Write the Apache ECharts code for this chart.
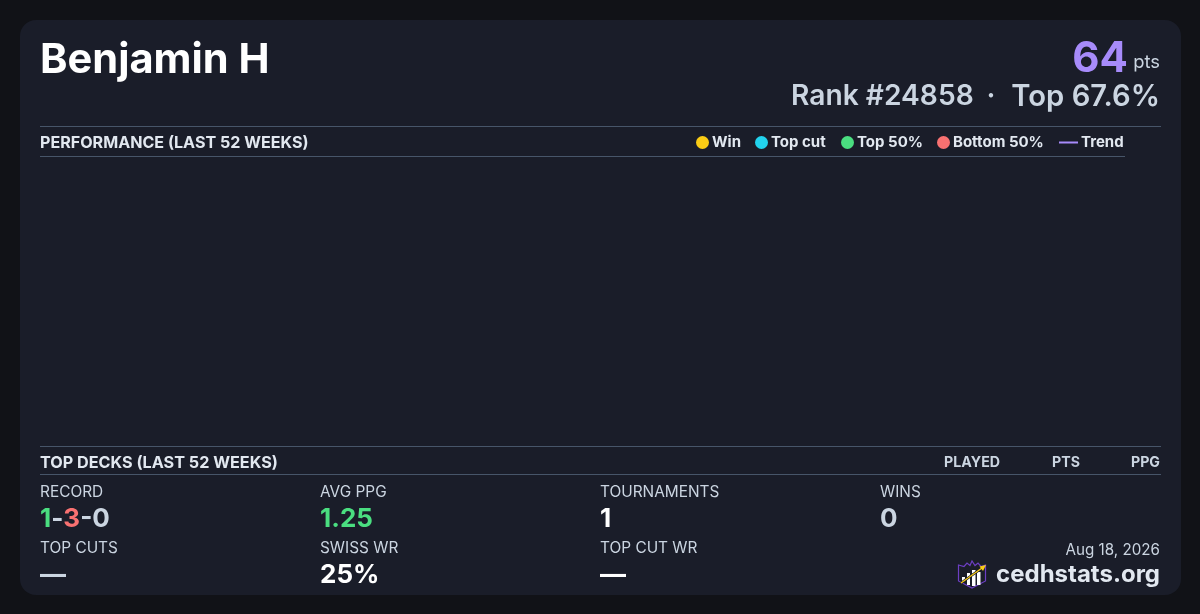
<!DOCTYPE html>
<html><head><meta charset="utf-8">
<style>html,body{margin:0;padding:0;background:#111217}#c{width:1200px;height:614px}</style>
<script src="https://cdn.jsdelivr.net/npm/echarts@6/dist/echarts.min.js"></script></head>
<body><div id="c"></div>
<script>
const playerName = 'Benjamin H';
const points = '64';
const rankText = 'Rank #24858';
const topText = 'Top 67.6%';
const legendNames = ['Win', 'Top cut', 'Top 50%', 'Bottom 50%', 'Trend'];
const legendColors = ['#facc15', '#22d3ee', '#4ade80', '#f87171', '#a78bfa'];
const legendLeft = [696, 755, 841, 937, 1059];
const winWeeks = [], topCutWeeks = [], top50Weeks = [], bottom50Weeks = [], trendWeeks = [];
const deckColumns = ['PLAYED', 'PTS', 'PPG'];
const deckColumnRight = [1000, 1080, 1160];
const FF = 'Inter';
const chart = echarts.init(document.getElementById('c'), null, {renderer:'canvas'});
const txt = (x, y, text, size, weight, fill, align) => ({type:'text', x, y, silent:true,
  style:{text, font:`${weight} ${size}px ${FF}`, fill, align:align||'left', verticalAlign:'middle'}});
const line = (x1, x2, y) => ({type:'rect', silent:true, shape:{x:x1, y:y, width:x2-x1, height:1}, style:{fill:'#475569'}});
const LW = '#cbd5e1', LS = 15.4, VS = 26;
const graphic = [
  {type:'rect', silent:true, z:-10, shape:{x:20,y:20,width:1161,height:575,r:16}, style:{fill:'#1a1d29'}},
  txt(40, 60, playerName, 41.6, 700, '#ffffff'),
  txt(1128, 59, points, 42, 700, '#a78bfa', 'right'),
  txt(1160, 62, 'pts', 18.4, 400, '#cbd5e1', 'right'),
  txt(791, 97, rankText, 28.2, 600, '#cbd5e1'),
  txt(991, 97, '·', 28, 600, '#cbd5e1', 'center'),
  txt(1160, 97, topText, 29.2, 600, '#cbd5e1', 'right'),
  line(40, 1161, 126), line(40, 1125, 156),
  txt(40, 143, 'PERFORMANCE (LAST 52 WEEKS)', 16.1, 700, '#e2e8f0'),
  line(40, 1161, 446), line(40, 1161, 474),
  txt(40, 463, 'TOP DECKS (LAST 52 WEEKS)', 16.2, 700, '#e2e8f0'),
  ...deckColumns.map((c,i)=>txt(deckColumnRight[i], 463, c, 14.2, 700, '#cbd5e1', 'right')),
  txt(40, 492.5, 'RECORD', LS, 400, LW),
  {type:'text', x:40, y:519, silent:true, style:{text:'{g|1}{w|-}{r|3}{w|-0}', verticalAlign:'middle',
     rich:{g:{font:`700 ${VS}px ${FF}`,fill:'#4ade80'}, r:{font:`700 ${VS}px ${FF}`,fill:'#f87171'}, w:{font:`700 ${VS}px ${FF}`,fill:'#cbd5e1'}}}},
  txt(320, 492.5, 'AVG PPG', LS, 400, LW), txt(320, 519, '1.25', VS, 700, '#4ade80'),
  txt(600, 492.5, 'TOURNAMENTS', LS, 400, LW), txt(600, 519, '1', VS, 700, '#ffffff'),
  txt(880, 492.5, 'WINS', LS, 400, LW), txt(880, 519, '0', VS, 700, '#cbd5e1'),
  txt(40, 548.5, 'TOP CUTS', LS, 400, LW), txt(40, 575, '—', VS, 700, '#cbd5e1'),
  txt(320, 548.5, 'SWISS WR', LS, 400, LW), txt(320, 575, '25%', VS, 700, '#ffffff'),
  txt(600, 548.5, 'TOP CUT WR', LS, 400, LW), txt(600, 575, '—', VS, 700, '#ffffff'),
  txt(1160, 550.5, 'Aug 18, 2026', 15.2, 400, '#cbd5e1', 'right'),
  txt(1160, 575, 'cedhstats.org', 24, 700, '#e2e8f0', 'right'),
  {type:'group', silent:true, children:[
    {type:'polygon', shape:{points:[[958.5,565],[964,566.5],[967,563],[970,565.5],[972,561],[975,565.5],[978,563],[981,566.5],[985.5,565],[985.5,581],[972,588],[958.5,581]]},
      style:{fill:'#1a1d29', stroke:'#6d3fc4', lineWidth:1.2}},
    {type:'rect', shape:{x:962,y:577,width:3,height:5}, style:{fill:'#fff'}},
    {type:'rect', shape:{x:967,y:573,width:3,height:12}, style:{fill:'#fff'}},
    {type:'rect', shape:{x:972,y:570,width:3.5,height:16}, style:{fill:'#fff'}},
    {type:'rect', shape:{x:977,y:572,width:3.5,height:13}, style:{fill:'#fff'}},
    {type:'line', shape:{x1:961,y1:583,x2:982,y2:568}, style:{stroke:'#1a1d29', lineWidth:2.6}},
    {type:'line', shape:{x1:961,y1:583,x2:982,y2:568}, style:{stroke:'#facc15', lineWidth:1.2}},
    {type:'polygon', shape:{points:[[986,565],[979.5,566.5],[983,571]]}, style:{fill:'#facc15'}}
  ]}
];
const legends = legendNames.map((n,i)=>({
  data:[n], left:legendLeft[i], top:135, padding:0, selectedMode:false,
  icon: i===4 ? 'rect' : 'circle',
  itemWidth: i===4 ? 19 : 13, itemHeight: i===4 ? 2 : 13,
  itemStyle:{opacity:1},
  textStyle:{fontFamily:FF, fontSize:15, fontWeight:700, color:'#e2e8f0', padding:[0,0,0,-2]}
}));
const weekSets = [winWeeks, topCutWeeks, top50Weeks, bottom50Weeks];
chart.setOption({
  animation:false, backgroundColor:'#111217',
  grid:{left:40, right:75, top:157, bottom:168},
  xAxis:{type:'value', min:0, max:52, show:false},
  yAxis:{type:'value', min:0, max:10, show:false},
  legend:legends,
  series:[
    ...weekSets.map((d,i)=>({type:'scatter', name:legendNames[i], data:d, itemStyle:{color:legendColors[i], opacity:1}})),
    {type:'line', name:legendNames[4], data:trendWeeks, showSymbol:false, itemStyle:{color:legendColors[4]}, lineStyle:{color:legendColors[4]}}
  ],
  graphic
});
</script></body></html>
